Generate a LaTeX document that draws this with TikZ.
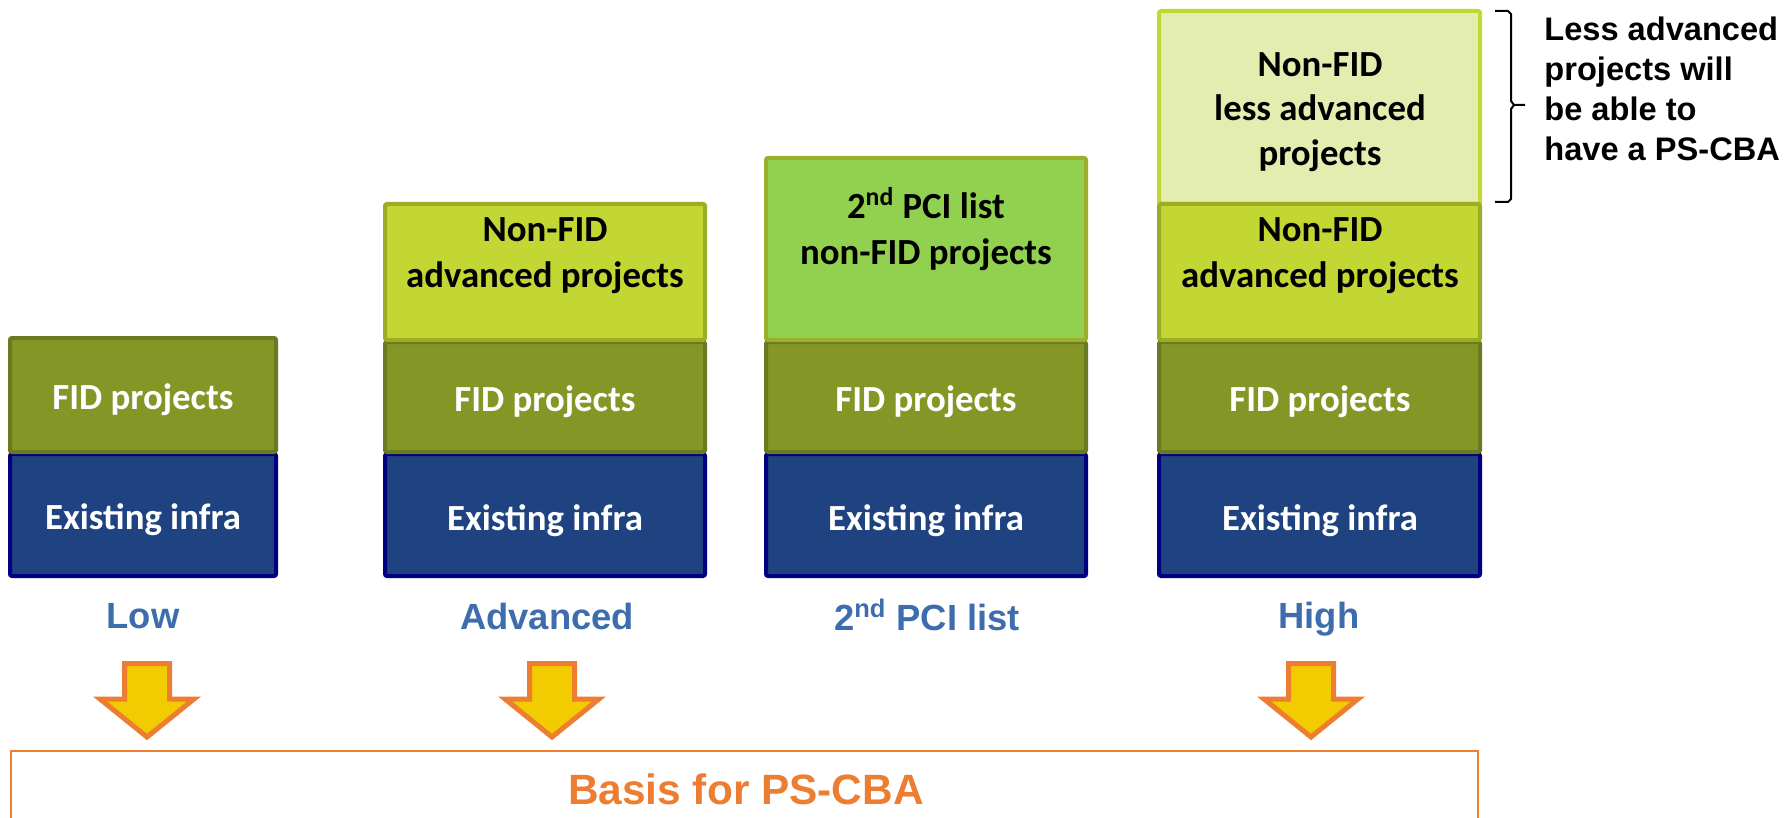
\documentclass[tikz,border=0pt]{standalone}
\usepackage{fontspec}
\setmainfont{Liberation Sans}
\newfontfamily\carlfont{Carlito}
\newfontfamily\arlfont{Liberation Sans}
\definecolor{infra}{HTML}{1F4380}
\definecolor{infraB}{HTML}{000080}
\definecolor{fid}{HTML}{849626}
\definecolor{fidB}{HTML}{6A7A20}
\definecolor{nadv}{HTML}{C2D634}
\definecolor{nadvB}{HTML}{9CAC24}
\definecolor{pci}{HTML}{92D050}
\definecolor{pciB}{HTML}{9CAF2A}
\definecolor{pale}{HTML}{E4EDB0}
\definecolor{paleB}{HTML}{C2D634}
\definecolor{lblue}{HTML}{3E6DAE}
\definecolor{orng}{HTML}{ED7D31}
\definecolor{ayel}{HTML}{F2CB00}
\tikzset{
  boxline/.style={line width=2pt, rounded corners=1pt},
  wtext/.style={text=white, font=\carlfont\bfseries\fontsize{18.4}{23}\selectfont, align=center, inner sep=0pt},
  btext/.style={text=black, font=\carlfont\bfseries\fontsize{18.4}{23}\selectfont, align=center, inner sep=0pt},
  lbl/.style={text=lblue, font=\arlfont\bfseries\fontsize{18.2}{22}\selectfont, inner sep=0pt},
  downarrow/.style={draw=orng, fill=ayel, line width=2.5pt, line join=miter},
}
\begin{document}
\begin{tikzpicture}[x=0.5pt,y=-0.5pt]
\useasboundingbox (0,0) rectangle (1787,818);
% column 4 pale box first
\draw[boxline, draw=paleB, fill=pale] (1159,11) rectangle (1480,204);
% existing infra
\foreach \a/\b in {10/276, 385/705, 766/1086, 1159/1480}{
  \draw[boxline, draw=infraB, fill=infra] (\a,454) rectangle (\b,576);
}
% FID
\draw[boxline, draw=fidB, fill=fid] (10,338) rectangle (276,452);
\foreach \a/\b in {385/705, 766/1086, 1159/1480}{
  \draw[boxline, draw=fidB, fill=fid] (\a,342) rectangle (\b,452);
}
% non-FID advanced
\draw[boxline, draw=nadvB, fill=nadv] (385,204) rectangle (705,340);
\draw[boxline, draw=nadvB, fill=nadv] (1159,204) rectangle (1480,340);
% PCI
\draw[boxline, draw=pciB, fill=pci] (766,158) rectangle (1086,340);

% texts
\node[wtext] (t1a) at (143,400) {FID projects};
\node[wtext] (t1b) at (143,520) {Existing infra};
\node[wtext] (t2a) at (545,402) {FID projects};
\node[wtext] (t2b) at (545,521) {Existing infra};
\node[wtext] (t3a) at (926,402) {FID projects};
\node[wtext] (t3b) at (926,521) {Existing infra};
\node[wtext] (t4a) at (1320,402) {FID projects};
\node[wtext] (t4b) at (1320,521) {Existing infra};
\node[btext] (t2c) at (545,256) {Non-FID\\advanced projects};
\node[btext] (t4c) at (1320,256) {Non-FID\\advanced projects};
\node[btext] (t3c) at (926,229) {2\textsuperscript{nd} PCI list\\non-FID projects};
\node[btext, font=\carlfont\bfseries\fontsize{18.4}{22.3}\selectfont] (t4d) at (1320,112) {Non-FID\\less advanced\\projects};

% labels
\node[lbl] (l1) at (143,616) {Low};
\node[lbl] (l2) at (547,616) {Advanced};
\node[lbl] (l3) at (927,615) {2\textsuperscript{nd} PCI list};
\node[lbl] (l4) at (1319,619) {High};

% brace
\coordinate (bt) at (1495,11);
\coordinate (bb) at (1495,202);
\coordinate (bm) at (1525,105);
\draw[line width=1pt, line join=round] (bt) -- (1508,11) -- (1511,14) -- (1511,101) -- (1514,105) -- (bm);
\draw[line width=1pt, line join=round] (bb) -- (1508,202) -- (1511,199) -- (1511,109) -- (1514,105);
\node[anchor=west, align=left, font=\arlfont\bfseries\fontsize{16.3}{20}\selectfont, inner sep=0pt] (note) at (1544,89) {Less advanced\\projects will\\be able to\\have a PS-CBA};

% arrows
\foreach \c/\n in {147/a1, 552/a2, 1311/a3}{
  \draw[downarrow] (\c-22.5,663.5) -- (\c+22.5,663.5) -- (\c+22.5,699) -- (\c+47,699) -- (\c,737) -- (\c-47,699) -- (\c-22.5,699) -- cycle;
}

% basis box
\draw[orng, line width=1pt] (11,830) -- (11,751) -- (1478,751) -- (1478,830);
\node[text=orng, font=\arlfont\bfseries\fontsize{21.2}{25}\selectfont, inner sep=0pt] (basis) at (746,789) {Basis for PS-CBA};
\end{tikzpicture}
\end{document}
